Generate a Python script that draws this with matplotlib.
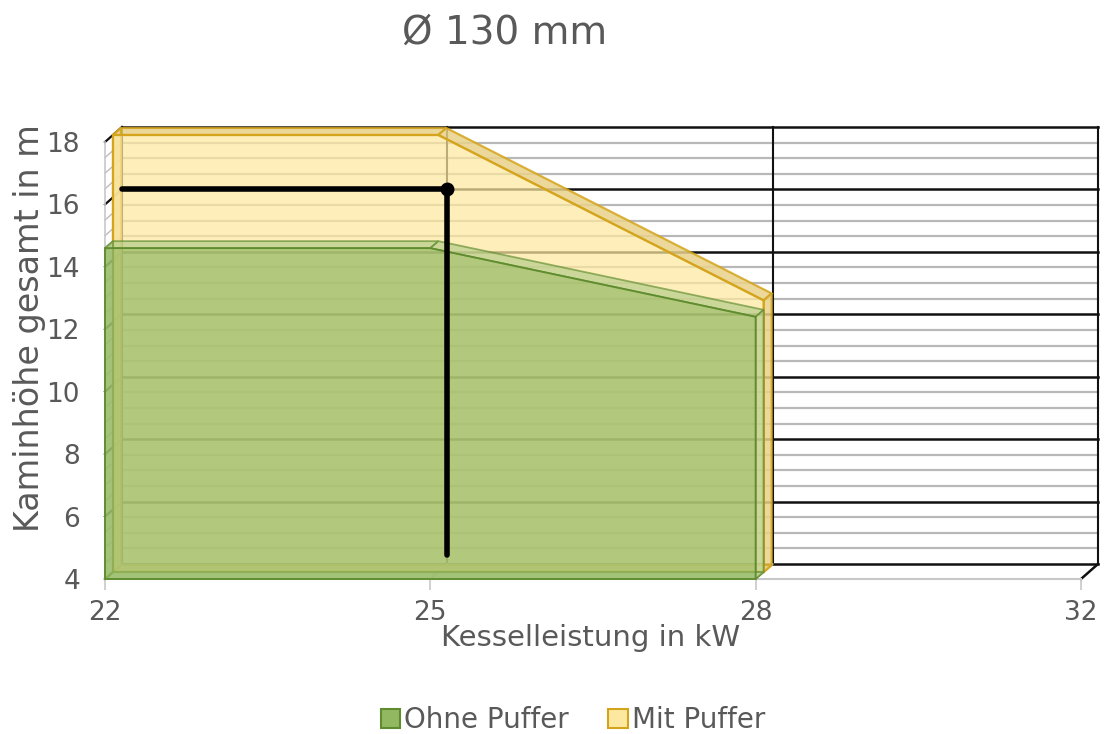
import numpy as np
import matplotlib
matplotlib.use("Agg")
import matplotlib.pyplot as plt
from matplotlib.patches import Polygon, Patch

# ---------------- data ----------------
categories = ["22", "25", "28", "32"]          # Kesselleistung in kW
ohne_puffer = [14.6, 14.6, 12.4, np.nan]       # Kaminhöhe (m)
mit_puffer = [18.0, 18.0, 12.7, np.nan]
y_ticks = [4, 6, 8, 10, 12, 14, 16, 18]
sel_index = 1          # 25 kW
sel_height = 16.0      # m
sel_bottom = 4.3

TEXT = "#595959"
plt.rcParams["font.family"] = ["DejaVu Sans"]

W, H, DPI = 1111, 734, 100
fig = plt.figure(figsize=(W / DPI, H / DPI), dpi=DPI)
ax_l, ax_r, ax_t, ax_b = 105, 1081, 142, 579
ax = fig.add_axes([ax_l / W, 1 - ax_b / H, (ax_r - ax_l) / W, (ax_b - ax_t) / H])
xmin, xmax = 0, len(categories) - 1
ymin, ymax = 4, 18
ax.set_xlim(xmin, xmax)
ax.set_ylim(ymin, ymax)
for s in ax.spines.values():
    s.set_visible(False)

pxx = (ax_r - ax_l) / (xmax - xmin)   # px per category
pxy = (ax_b - ax_t) / (ymax - ymin)   # px per metre


def off(dx_px, up_px):
    return dx_px / pxx, up_px / pxy


# depth offsets (pixels)
BACK = off(17, 15)
G_BACK = off(8, 7)
Y_FRONT = off(8, 7)
Y_BACK = off(16, 14)

# ---------------- back wall grid ----------------
bx, by = BACK
levels = np.arange(ymin, ymax + 0.01, 0.5)
for v in levels:
    major = abs(v - round(v)) < 1e-6 and int(round(v)) % 2 == 0
    ax.plot([xmin + bx, xmax + bx], [v + by, v + by],
            color="#111111" if major else "#b8b8b8",
            lw=1.8 if major else 1.6, zorder=1, clip_on=False)
    # left side wall
    ax.plot([xmin, xmin + bx], [v, v + by],
            color="#111111" if major else "#bdbdbd",
            lw=1.6 if major else 1.0, zorder=1, clip_on=False)
for i in range(len(categories)):
    ax.plot([i + bx, i + bx], [ymin + by, ymax + by], color="#111111",
            lw=1.5, zorder=1, clip_on=False)
    ax.plot([i, i + bx], [ymin, ymin + by], color="#c8c8c8" if i < xmax else "#111111",
            lw=1.2 if i < xmax else 1.8, zorder=1, clip_on=False)
# front axis lines
ax.plot([xmin, xmin], [ymin, ymax], color="#c8c8c8", lw=1.2, zorder=1, clip_on=False)
ax.plot([xmin, xmax], [ymin, ymin], color="#c8c8c8", lw=1.5, zorder=1, clip_on=False)


def slab(vals, front, back, face, face_alpha, top, top_alpha, edge, elw, z):
    xs = [i for i, v in enumerate(vals) if not np.isnan(v)]
    vs = [vals[i] for i in xs]
    fx, fy = front
    bx_, by_ = back
    # top faces
    for k in range(len(xs) - 1):
        quad = [(xs[k] + fx, vs[k] + fy), (xs[k + 1] + fx, vs[k + 1] + fy),
                (xs[k + 1] + bx_, vs[k + 1] + by_), (xs[k] + bx_, vs[k] + by_)]
        ax.add_patch(Polygon(quad, closed=True, facecolor=top, alpha=top_alpha,
                             edgecolor=edge, lw=elw, zorder=z, clip_on=False))
    # right side face
    side = [(xs[-1] + fx, ymin + fy), (xs[-1] + fx, vs[-1] + fy),
            (xs[-1] + bx_, vs[-1] + by_), (xs[-1] + bx_, ymin + by_)]
    ax.add_patch(Polygon(side, closed=True, facecolor=top, alpha=top_alpha,
                         edgecolor=edge, lw=elw, zorder=z, clip_on=False))
    # bottom face
    bottom = [(xs[0] + fx, ymin + fy), (xs[-1] + fx, ymin + fy),
              (xs[-1] + bx_, ymin + by_), (xs[0] + bx_, ymin + by_)]
    ax.add_patch(Polygon(bottom, closed=True, facecolor=top, alpha=top_alpha,
                         edgecolor=edge, lw=elw, zorder=z, clip_on=False))
    # left side face
    left = [(xs[0] + fx, ymin + fy), (xs[0] + fx, vs[0] + fy),
            (xs[0] + bx_, vs[0] + by_), (xs[0] + bx_, ymin + by_)]
    ax.add_patch(Polygon(left, closed=True, facecolor=top, alpha=top_alpha,
                         edgecolor=edge, lw=elw, zorder=z, clip_on=False))
    # front face
    pts = [(xs[0] + fx, ymin + fy)] + [(x + fx, v + fy) for x, v in zip(xs, vs)] + \
          [(xs[-1] + fx, ymin + fy)]
    ax.add_patch(Polygon(pts, closed=True, facecolor=face, alpha=face_alpha,
                         edgecolor="none", zorder=z + 0.1, clip_on=False))
    ax.add_patch(Polygon(pts, closed=True, facecolor="none",
                         edgecolor=edge, lw=elw, zorder=z + 0.2, clip_on=False))


slab(mit_puffer, Y_FRONT, Y_BACK, "#fde8a0", 0.72, "#e9d28a", 0.85, "#d4a41c", 1.6, 3)
slab(ohne_puffer, (0, 0), G_BACK, "#93b862", 0.7, "#b0cc86", 0.65, "#5e8c2e", 1.3, 4)

# ---------------- selection line (on back wall) ----------------
ax.plot([xmin + bx, sel_index + bx, sel_index + bx],
        [sel_height + by, sel_height + by, sel_bottom + by],
        color="black", lw=4, solid_capstyle="round", solid_joinstyle="round",
        zorder=10, clip_on=False)
ax.plot([sel_index + bx], [sel_height + by], "o", color="black", ms=9,
        zorder=11, clip_on=False)

# ---------------- ticks & labels ----------------
ax.set_xticks(range(len(categories)))
ax.set_xticklabels(categories)
ax.set_yticks(y_ticks)
ax.set_yticklabels([str(t) for t in y_ticks])
ax.tick_params(axis="x", length=8, width=1.2, color="#c8c8c8", pad=7,
               labelsize=19, labelcolor=TEXT)
ax.tick_params(axis="y", length=0, pad=18, labelsize=19, labelcolor=TEXT)
ax.grid(False)
ax.set_facecolor("none")

fig.text(505 / W, 1 - 33 / H, "Ø 130 mm", ha="center", va="center",
         fontsize=28, color=TEXT)
fig.text(591 / W, 1 - 638 / H, "Kesselleistung in kW", ha="center", va="center",
         fontsize=21, color=TEXT)
fig.text(30 / W, 1 - 328 / H, "Kaminhöhe gesamt in m", ha="center", va="center",
         rotation=90, fontsize=24, color=TEXT)

handles = [Patch(facecolor="#93b862", edgecolor="#5e8c2e", lw=1.5, label="Ohne Puffer"),
           Patch(facecolor="#fde8a0", edgecolor="#d4a41c", lw=1.5, label="Mit Puffer")]
fig.legend(handles=handles, loc="center", bbox_to_anchor=(573 / W, 1 - 720 / H),
           ncol=2, frameon=False, fontsize=20, handlelength=0.7, handleheight=0.7,
           handletextpad=0.15, columnspacing=1.4, labelcolor=TEXT)

fig.savefig("out.png", dpi=DPI)
